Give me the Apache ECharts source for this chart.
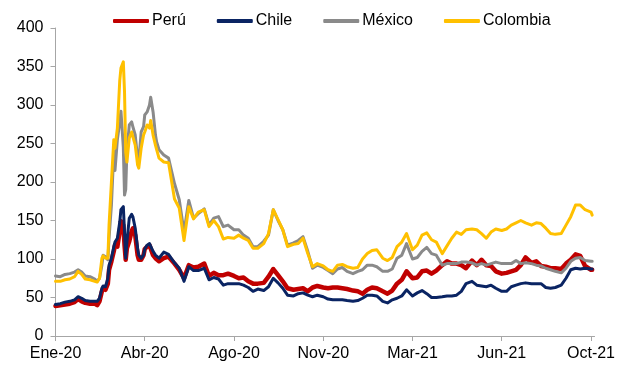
<!DOCTYPE html>
<html>
<head>
<meta charset="utf-8">
<script src="https://cdn.jsdelivr.net/npm/echarts@6/dist/echarts.min.js"></script>
<style>
  html, body { margin: 0; padding: 0; background: #ffffff; }
  #chart { width: 618px; height: 367px; }
</style>
</head>
<body>
<div id="chart"></div>
<script>
// Horizontal axis: trading days counted from the first session of January 2020.
const tickLabels = ['Ene-20', 'Abr-20', 'Ago-20', 'Nov-20', 'Mar-21', 'Jun-21', 'Oct-21'];
const tickStep = 75;     // trading days between consecutive labels
const lastDay = 453;

const days = [
  0, 4, 8, 12, 16, 19, 22, 25, 29, 33, 35, 37, 39, 40, 42, 44, 45, 47, 49, 50,
  52, 54, 55, 57, 58, 59, 60, 62, 64, 65, 67, 69, 70, 72, 74, 75, 77, 79, 80, 82,
  84, 85, 87,
  91, 95, 100, 104, 108, 112, 116, 120, 125, 129,
  133, 137, 141, 145, 150, 154, 158, 162, 166, 170,
  175, 179, 183, 187, 191, 195, 200, 204, 208, 212,
  216, 220, 225, 229, 233, 237, 241, 245, 250, 254,
  258, 262, 266, 270, 275, 279, 283, 287, 291, 295,
  300, 304, 308, 312, 316, 320, 325, 329, 333, 337,
  341, 345, 350, 354, 358, 362, 366, 370, 375, 379,
  383, 387, 391, 395, 400, 404, 408, 412, 416, 420,
  425, 429, 433, 437, 441, 445, 450, 451
];

const peru = [
  39, 40, 41, 42, 44, 48, 45, 43, 42, 42, 40, 45, 58, 62, 60, 68, 86, 97, 110, 118,
  116, 136, 149, 144, 118, 99, 114, 123, 136, 140, 131, 105, 99, 99, 105, 113, 116, 118, 118, 105,
  101, 99, 97,
  101, 103, 94, 86, 75, 92, 89, 90, 94, 78,
  82, 79, 79, 81, 78, 75, 76, 71, 68, 68,
  69, 77, 87, 79, 71, 62, 60, 61, 62, 58,
  63, 65, 63, 62, 63, 63, 62, 61, 59, 58,
  55, 60, 63, 62, 58, 55, 59, 68, 73, 84,
  75, 76, 84, 85, 81, 85, 92, 97, 94, 94,
  92, 88, 98, 92, 99, 92, 91, 84, 81, 82,
  84, 86, 92, 102, 95, 97, 91, 90, 88, 88,
  87, 94, 99, 106, 104, 91, 86, 86
];

const chile = [
  41, 42, 44, 45, 47, 51, 49, 46, 45, 45, 45, 49, 62, 65, 64, 75, 92, 101, 116, 122,
  127, 148, 164, 168, 135, 101, 122, 153, 158, 155, 140, 114, 105, 101, 105, 113, 118, 120, 122, 110,
  105, 103, 101,
  109, 106, 95, 88, 71, 90, 85, 85, 88, 73,
  76, 74, 66, 68, 68, 68, 66, 63, 58, 61,
  59, 64, 75, 69, 62, 53, 52, 55, 56, 53,
  51, 53, 51, 48, 47, 47, 47, 46, 45, 46,
  49, 53, 53, 52, 45, 43, 47, 49, 52, 60,
  52, 56, 59, 55, 50, 50, 51, 52, 52, 53,
  58, 68, 71, 66, 65, 64, 66, 62, 58, 58,
  64, 66, 68, 69, 68, 68, 68, 63, 62, 63,
  66, 75, 86, 88, 87, 88, 87, 87
];

const mexico = [
  78, 77, 80, 81, 83, 86, 83, 78, 77, 74, 71, 75, 92, 105, 103, 99, 127, 170, 240, 215,
  255, 278, 292, 245, 183, 190, 239, 274, 278, 272, 261, 231, 226, 265, 272, 287, 291, 300, 310, 291,
  261, 252, 242,
  235, 231, 198, 177, 135, 176, 153, 159, 165, 144,
  153, 155, 142, 144, 138, 138, 131, 127, 116, 116,
  123, 131, 164, 150, 138, 118, 121, 124, 129, 110,
  88, 92, 89, 85, 81, 87, 89, 84, 81, 84,
  86, 92, 92, 90, 84, 84, 87, 101, 105, 120,
  100, 102, 110, 115, 107, 105, 92, 94, 94, 94,
  96, 96, 95, 92, 94, 92, 94, 96, 94, 94,
  94, 98, 94, 95, 94, 92, 91, 88, 86, 84,
  82, 88, 97, 101, 102, 98, 97, 97
];

const colombia = [
  71, 71, 73, 74, 77, 84, 80, 74, 73, 71, 70, 75, 101, 104, 101, 101, 144, 200, 255, 244,
  270, 332, 348, 356, 317, 239, 226, 257, 265, 259, 248, 222, 218, 244, 261, 265, 274, 270, 280, 261,
  248, 242, 231,
  226, 225, 178, 166, 124, 168, 152, 161, 164, 142,
  150, 142, 126, 128, 127, 131, 127, 124, 114, 114,
  120, 133, 164, 151, 138, 116, 119, 120, 127, 107,
  90, 94, 91, 86, 84, 92, 93, 90, 88, 89,
  100, 107, 111, 112, 101, 98, 102, 116, 122, 133,
  112, 118, 131, 134, 125, 122, 107, 117, 127, 135,
  132, 138, 139, 138, 133, 127, 135, 139, 137, 139,
  144, 147, 150, 147, 144, 147, 146, 140, 133, 132,
  133, 144, 155, 170, 170, 164, 161, 157
];

const seriesNames = ['Perú', 'Chile', 'México', 'Colombia'];
const seriesColors = ['#C00000', '#0A2463', '#8A8A8A', '#FFC000'];
const seriesWidths = [4.5, 3, 3, 3];
const seriesValues = [peru, chile, mexico, colombia];

const tickValues = tickLabels.map((_, i) => i * tickStep);
const font = '"Liberation Sans", Arial, sans-serif';
const axisColor = '#A6A6A6';

const chart = echarts.init(document.getElementById('chart'), null, { renderer: 'canvas' });

chart.setOption({
  animation: false,
  backgroundColor: '#ffffff',
  textStyle: { fontFamily: font },
  legend: {
    left: 108,
    top: 8,
    itemWidth: 36,
    itemHeight: 4,
    itemGap: 31,
    icon: 'roundRect',
    textStyle: { fontSize: 16, color: '#000000', fontFamily: font, padding: [0, 0, 0, -2] },
    data: seriesNames
  },
  grid: { left: 55.5, right: 19, top: 28, bottom: 31 },
  xAxis: {
    type: 'value',
    min: 0,
    max: lastDay,
    interval: tickStep,
    splitLine: { show: false },
    axisLine: { show: true, lineStyle: { color: axisColor, width: 1 } },
    axisTick: { show: true, length: 5, lineStyle: { color: axisColor }, customValues: tickValues },
    axisLabel: {
      customValues: tickValues,
      margin: 10,
      fontSize: 16,
      color: '#000000',
      fontFamily: font,
      formatter: v => tickLabels[Math.round(v / tickStep)] || ''
    }
  },
  yAxis: {
    type: 'value',
    min: 0,
    max: 400,
    interval: 50,
    splitLine: { show: false },
    axisLine: { show: true, lineStyle: { color: axisColor, width: 1 } },
    axisTick: { show: true, length: 5, lineStyle: { color: axisColor } },
    axisLabel: { margin: 12, fontSize: 16, color: '#000000', fontFamily: font }
  },
  series: seriesNames.map((name, i) => ({
    name: name,
    type: 'line',
    showSymbol: false,
    symbol: 'none',
    z: 2 + i,
    color: seriesColors[i],
    lineStyle: { width: seriesWidths[i], color: seriesColors[i], join: 'round', cap: 'round' },
    data: days.map((d, k) => [d, seriesValues[i][k]])
  }))
});
</script>
</body>
</html>
